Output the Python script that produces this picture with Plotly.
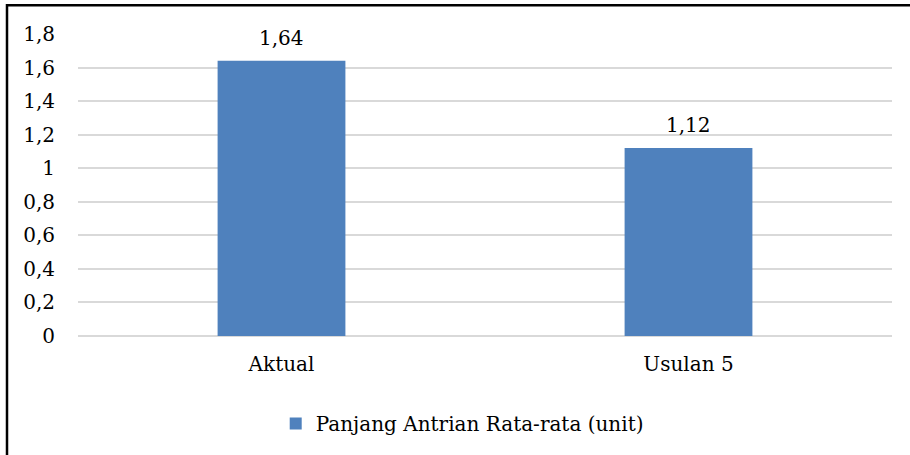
import plotly.graph_objects as go

categories = ["Aktual", "Usulan 5"]
values = [1.64, 1.12]
series_name = "Panjang Antrian Rata-rata (unit)"
tick_vals = [0, 0.2, 0.4, 0.6, 0.8, 1.0, 1.2, 1.4, 1.6, 1.8]
tick_text = ["0", "0,2", "0,4", "0,6", "0,8", "1", "1,2", "1,4", "1,6", "1,8"]

FONT = "DejaVu Serif"
FS = 20
W, H = 910, 455
L, R, T, B = 78, 18, 34, 117

fig = go.Figure()
fig.add_trace(go.Bar(
    x=categories,
    y=values,
    name=series_name,
    marker=dict(color="#4F81BD", line=dict(width=0)),
    width=0.314,
))

# value labels above each bar
for c, v in zip(categories, values):
    fig.add_annotation(
        x=c, y=v, xref="x", yref="y",
        text=f"{v:.2f}".replace(".", ","),
        showarrow=False, yanchor="bottom", yshift=9,
        font=dict(family=FONT, size=FS, color="#000000"),
    )

# frame line around the chart area
plot_w = W - L - R
plot_h = H - T - B
fig.add_shape(
    type="rect", xref="paper", yref="paper",
    x0=(7 - L) / plot_w, x1=(W + 20 - L) / plot_w,
    y0=-(H + 20 - T - plot_h) / plot_h, y1=(H - B - 5) / plot_h,
    line=dict(color="#000000", width=2.5), fillcolor="rgba(0,0,0,0)",
    layer="above",
)

fig.update_layout(
    width=W, height=H,
    margin=dict(l=L, r=R, t=T, b=B),
    paper_bgcolor="#FFFFFF", plot_bgcolor="#FFFFFF",
    font=dict(family=FONT, size=FS, color="#000000"),
    separators=",.",
    showlegend=True,
    legend=dict(
        orientation="h", x=0.472, xanchor="center", y=-0.225, yanchor="top",
        itemwidth=30,
        font=dict(family=FONT, size=FS, color="#000000"),
    ),
    xaxis=dict(
        showline=False, showgrid=False, ticks="", ticklabelstandoff=14,
        tickfont=dict(family=FONT, size=FS),
    ),
    yaxis=dict(
        range=[0, 1.8], tickvals=tick_vals, ticktext=tick_text,
        showgrid=True, gridcolor="#D9D9D9", gridwidth=1.5,
        zeroline=True, zerolinecolor="#D9D9D9", zerolinewidth=1.5,
        showline=False, ticks="", ticklabelstandoff=22,
        tickfont=dict(family=FONT, size=FS),
    ),
    bargap=0.686,
)

fig.write_html("out.html")
